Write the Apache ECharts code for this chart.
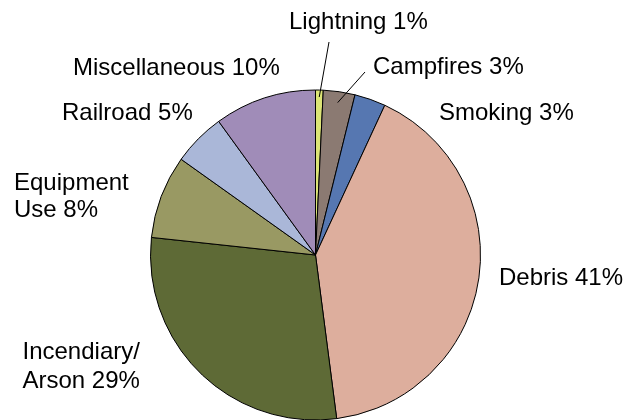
<!DOCTYPE html>
<html>
<head>
<meta charset="utf-8">
<script src="https://cdn.jsdelivr.net/npm/echarts@6/dist/echarts.min.js"></script>
<style>
html,body{margin:0;padding:0;background:#fff;}
#chart{width:625px;height:420px;}
</style>
</head>
<body>
<div id="chart"></div>
<script>
// Data
var categories = ['Lightning', 'Campfires', 'Smoking', 'Debris', 'Incendiary/\nArson', 'Equipment\nUse', 'Railroad', 'Miscellaneous'];
var values = [0.75, 3.1, 3.05, 41.05, 28.75, 8.15, 5.17, 9.98];
var pctLabels = ['1%', '3%', '3%', '41%', '29%', '8%', '5%', '10%'];

// Styles / layout
var colors = ['#dce476', '#8b7a72', '#5677b1', '#ddae9d', '#5e6a36', '#999963', '#aab7d8', '#a08cb8'];
var CX = 315.5, CY = 255, R = 165;
var FONT = '24px "Liberation Sans", Arial, Helvetica, sans-serif';
var labelPos = [
  {x: 289, y: 22},
  {x: 373, y: 67},
  {x: 439, y: 113.5},
  {x: 499, y: 278},
  {x: 22.5, y: 367, lh: 29.5},
  {x: 14, y: 196.5, lh: 27},
  {x: 62, y: 113},
  {x: 73, y: 68}
];
var lineTop = {0: [329, 42], 1: [365, 72]};
var lineInset = {0: 7, 1: 11};

var total = values.reduce(function(a, b){ return a + b; }, 0);
function midPoint(i, rr) {
  var cum = 0;
  for (var k = 0; k < i; k++) cum += values[k];
  var a = (cum + values[i] / 2) / total * 2 * Math.PI;
  return [CX + rr * Math.sin(a), CY - rr * Math.cos(a)];
}

var data = categories.map(function(c, i) {
  return { name: c, value: values[i], itemStyle: {color: colors[i]} };
});

var graphics = [];
categories.forEach(function(c, i) {
  var lp = labelPos[i];
  graphics.push({
    type: 'text',
    x: lp.x, y: lp.y,
    z: 10,
    style: {
      text: c + ' ' + pctLabels[i],
      font: FONT,
      fill: '#000',
      textAlign: 'left',
      textVerticalAlign: 'middle',
      lineHeight: lp.lh || 26
    }
  });
  if (lineTop[i]) {
    var inner = midPoint(i, R - lineInset[i]);
    graphics.push({
      type: 'line',
      z: 10,
      shape: {x1: inner[0], y1: inner[1], x2: lineTop[i][0], y2: lineTop[i][1]},
      style: {stroke: '#000', lineWidth: 1}
    });
  }
});

var chart = echarts.init(document.getElementById('chart'), null, {renderer: 'canvas'});
chart.setOption({
  animation: false,
  backgroundColor: '#ffffff',
  series: [{
    type: 'pie',
    center: [CX, CY],
    radius: R,
    startAngle: 90,
    clockwise: true,
    data: data,
    itemStyle: {borderColor: '#000', borderWidth: 1},
    label: {show: false},
    labelLine: {show: false},
    emphasis: {disabled: true}
  }],
  graphic: graphics
});
</script>
</body>
</html>
